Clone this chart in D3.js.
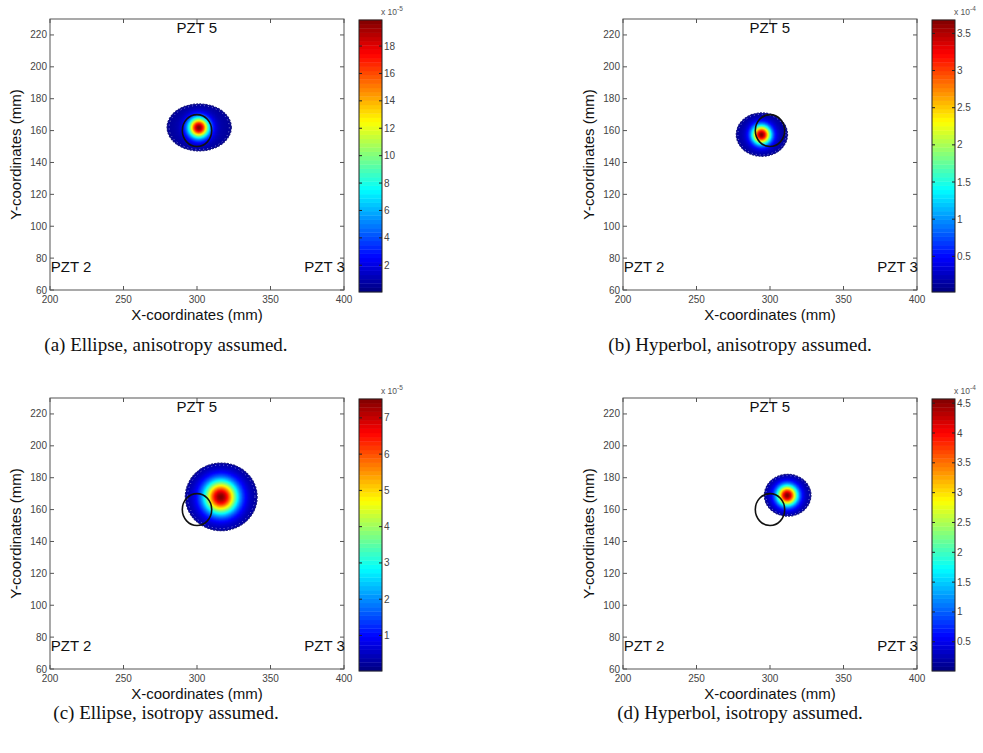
<!DOCTYPE html>
<html><head><meta charset="utf-8">
<script src="https://cdn.jsdelivr.net/npm/d3@7"></script>
<style>body{margin:0;background:#fff} svg{display:block}</style>
</head><body>
<script>
// ---- data ----
const panelIds = ['a','b','c','d'];
const captions = ['(a) Ellipse, anisotropy assumed.', '(b) Hyperbol, anisotropy assumed.', '(c) Ellipse, isotropy assumed.', '(d) Hyperbol, isotropy assumed.'];
const xTicks = [200,250,300,350,400];
const yTicks = [60,80,100,120,140,160,180,200,220];
const xDomain = [200,400], yDomain = [60,230];
const sensorNames = ['PZT 5','PZT 2','PZT 3'];
const sensorX = [286,200.5,373];
const sensorY = [224.5,74.5,74.5];
const damageX = 300, damageY = 160, damageR = 10;
const blobCx = [301.5,294.5,316.5,312];
const blobCy = [162,157.5,168,169];
const blobSx = [4.8,4.4,7.8,4.8];
const blobSy = [4.4,4.1,7.2,4.4];
const blobRx = [21.8,17.4,24.4,15.8];
const blobRy = [14.7,13.6,21.2,13.1];
const blobFloor = [0.05,0.055,0.05,0.06];
const cbMin = [0.05,0.02,0.02,0.01];
const cbMax = [19.9,3.68,7.52,4.57];
const cbTicks = [[2,4,6,8,10,12,14,16,18],[0.5,1,1.5,2,2.5,3,3.5],[1,2,3,4,5,6,7],[0.5,1,1.5,2,2.5,3,3.5,4,4.5]];
const cbExp = ['-5','-4','-5','-4'];

// ---- layout ----
const W = 983, H = 753;
const plotLeft = [50,623,50,623], plotTop = [19,19,398,398];
const plotW = 294, plotH = 271;
const cbLeft = [359,932,359,932], cbW = 23;
const captionX = [166,740,166,740], captionY = [351,351,719,719];

function jet(t){
  t = Math.max(0, Math.min(1, t));
  const c = v => Math.round(255*Math.max(0, Math.min(1, v)));
  return `rgb(${c(1.5-Math.abs(4*t-3))},${c(1.5-Math.abs(4*t-2))},${c(1.5-Math.abs(4*t-1))})`;
}

const svg = d3.select('body').append('svg').attr('width',W).attr('height',H);
const sans = "'Liberation Sans', Arial, sans-serif";

panelIds.forEach((id,i) => {
  const g = svg.append('g');
  const x = d3.scaleLinear().domain(xDomain).range([plotLeft[i], plotLeft[i]+plotW]);
  const y = d3.scaleLinear().domain(yDomain).range([plotTop[i]+plotH, plotTop[i]]);

  // heat field cells
  const step = 0.5, cells = [];
  for (let gx = blobCx[i]-blobRx[i]; gx <= blobCx[i]+blobRx[i]; gx += step){
    for (let gy = blobCy[i]-blobRy[i]; gy <= blobCy[i]+blobRy[i]; gy += step){
      const e = ((gx-blobCx[i])/blobRx[i])**2 + ((gy-blobCy[i])/blobRy[i])**2;
      if (e > 1.05) continue;
      const q = ((gx-blobCx[i])/blobSx[i])**2 + ((gy-blobCy[i])/blobSy[i])**2;
      const f = Math.exp(-q/2)*(1-blobFloor[i]) + blobFloor[i]*(1-0.5*e);
      cells.push({gx, gy, v: cbMin[i] + (cbMax[i]-cbMin[i])*f});
    }
  }
  const cs = d3.scaleLinear().domain([cbMin[i], cbMax[i]]).range([0,1]).clamp(true);
  const clipId = 'clip'+id;
  const erx = x(blobCx[i]+blobRx[i])-x(blobCx[i]), ery = y(blobCy[i])-y(blobCy[i]+blobRy[i]);
  g.append('clipPath').attr('id',clipId).append('ellipse')
    .attr('cx',x(blobCx[i])).attr('cy',y(blobCy[i])).attr('rx',erx).attr('ry',ery);
  const cw = x(xDomain[0]+step)-x(xDomain[0]), ch = y(yDomain[0])-y(yDomain[0]+step);
  g.append('g').attr('clip-path',`url(#${clipId})`).selectAll('rect').data(cells).join('rect')
    .attr('x', d => x(d.gx)-cw/2-0.3).attr('y', d => y(d.gy)-ch/2-0.3)
    .attr('width', cw+0.6).attr('height', ch+0.6)
    .attr('fill', d => jet(cs(d.v)));
  // noisy outer contour
  g.append('ellipse')
    .attr('cx',x(blobCx[i])).attr('cy',y(blobCy[i])).attr('rx',erx).attr('ry',ery)
    .attr('fill','none').attr('stroke','#1c1c80').attr('stroke-width',1.3).attr('stroke-dasharray','2,1.2');
  g.append('ellipse')
    .attr('cx',x(blobCx[i])).attr('cy',y(blobCy[i])).attr('rx',erx*0.94).attr('ry',ery*0.94)
    .attr('fill','none').attr('stroke','#ffffff').attr('stroke-opacity',0.6).attr('stroke-width',0.8).attr('stroke-dasharray','1,3');

  // damage circle
  g.append('ellipse')
    .attr('cx',x(damageX)).attr('cy',y(damageY))
    .attr('rx',x(damageX+damageR)-x(damageX)).attr('ry',y(damageY)-y(damageY+damageR))
    .attr('fill','none').attr('stroke','#111').attr('stroke-width',1.6);

  // axes box
  g.append('rect').attr('x',plotLeft[i]).attr('y',plotTop[i]).attr('width',plotW).attr('height',plotH)
    .attr('fill','none').attr('stroke','#555').attr('stroke-width',1);
  const ax = g.append('g').attr('font-family',sans).attr('font-size',10).attr('fill','#444');
  xTicks.forEach(t => {
    ax.append('line').attr('x1',x(t)).attr('x2',x(t)).attr('y1',plotTop[i]+plotH).attr('y2',plotTop[i]+plotH-4).attr('stroke','#555');
    ax.append('line').attr('x1',x(t)).attr('x2',x(t)).attr('y1',plotTop[i]).attr('y2',plotTop[i]+4).attr('stroke','#555');
    ax.append('text').attr('x',x(t)).attr('y',plotTop[i]+plotH+13).attr('text-anchor','middle').text(t);
  });
  yTicks.forEach(t => {
    ax.append('line').attr('x1',plotLeft[i]).attr('x2',plotLeft[i]+4).attr('y1',y(t)).attr('y2',y(t)).attr('stroke','#555');
    ax.append('line').attr('x1',plotLeft[i]+plotW).attr('x2',plotLeft[i]+plotW-4).attr('y1',y(t)).attr('y2',y(t)).attr('stroke','#555');
    ax.append('text').attr('x',plotLeft[i]-3).attr('y',y(t)+3.5).attr('text-anchor','end').text(t);
  });
  g.append('text').attr('x',plotLeft[i]+plotW/2).attr('y',plotTop[i]+plotH+30)
    .attr('text-anchor','middle').attr('font-family',sans).attr('font-size',15).attr('fill','#111')
    .text('X-coordinates (mm)');
  g.append('text').attr('transform',`translate(${plotLeft[i]-29},${plotTop[i]+plotH/2}) rotate(-90)`)
    .attr('text-anchor','middle').attr('font-family',sans).attr('font-size',15).attr('fill','#111')
    .text('Y-coordinates (mm)');
  // sensors
  sensorNames.forEach((s,k) => {
    g.append('text').attr('x',x(sensorX[k])).attr('y',y(sensorY[k])+5.5)
      .attr('font-family',sans).attr('font-size',15).attr('fill','#111').text(s);
  });

  // colorbar
  const cbTop = plotTop[i]+1, cbBot = plotTop[i]+plotH+2;
  const cy = d3.scaleLinear().domain([cbMin[i], cbMax[i]]).range([cbBot, cbTop]);
  const n = 64, steps = d3.range(n);
  const cbg = g.append('g');
  cbg.selectAll('rect').data(steps).join('rect')
    .attr('x',cbLeft[i]).attr('width',cbW)
    .attr('y', k => cbBot-(k+1)*(cbBot-cbTop)/n-0.2).attr('height',(cbBot-cbTop)/n+0.4)
    .attr('fill', k => jet((k+0.5)/n));
  cbg.append('rect').attr('x',cbLeft[i]).attr('y',cbTop).attr('width',cbW).attr('height',cbBot-cbTop)
    .attr('fill','none').attr('stroke','#222').attr('stroke-width',1);
  cbTicks[i].forEach(t => {
    cbg.append('line').attr('x1',cbLeft[i]+cbW).attr('x2',cbLeft[i]+cbW-3).attr('y1',cy(t)).attr('y2',cy(t)).attr('stroke','#222');
    cbg.append('line').attr('x1',cbLeft[i]).attr('x2',cbLeft[i]+3).attr('y1',cy(t)).attr('y2',cy(t)).attr('stroke','#222');
    cbg.append('text').attr('x',cbLeft[i]+cbW+2).attr('y',cy(t)+3.5)
      .attr('font-family',sans).attr('font-size',10).attr('fill','#444').text(t);
  });
  const ex = cbg.append('text').attr('x',cbLeft[i]+cbW-1).attr('y',cbTop-5)
    .attr('font-family',sans).attr('font-size',8.5).attr('fill','#555');
  ex.append('tspan').text('x 10');
  ex.append('tspan').attr('dy',-4).attr('font-size',6.5).text(cbExp[i]);

  // caption
  svg.append('text').attr('x',captionX[i]).attr('y',captionY[i]).attr('text-anchor','middle')
    .attr('font-family',"'Liberation Serif','Times New Roman',serif").attr('font-size',19).attr('fill','#111')
    .text(captions[i]);
});
</script>
</body></html>
